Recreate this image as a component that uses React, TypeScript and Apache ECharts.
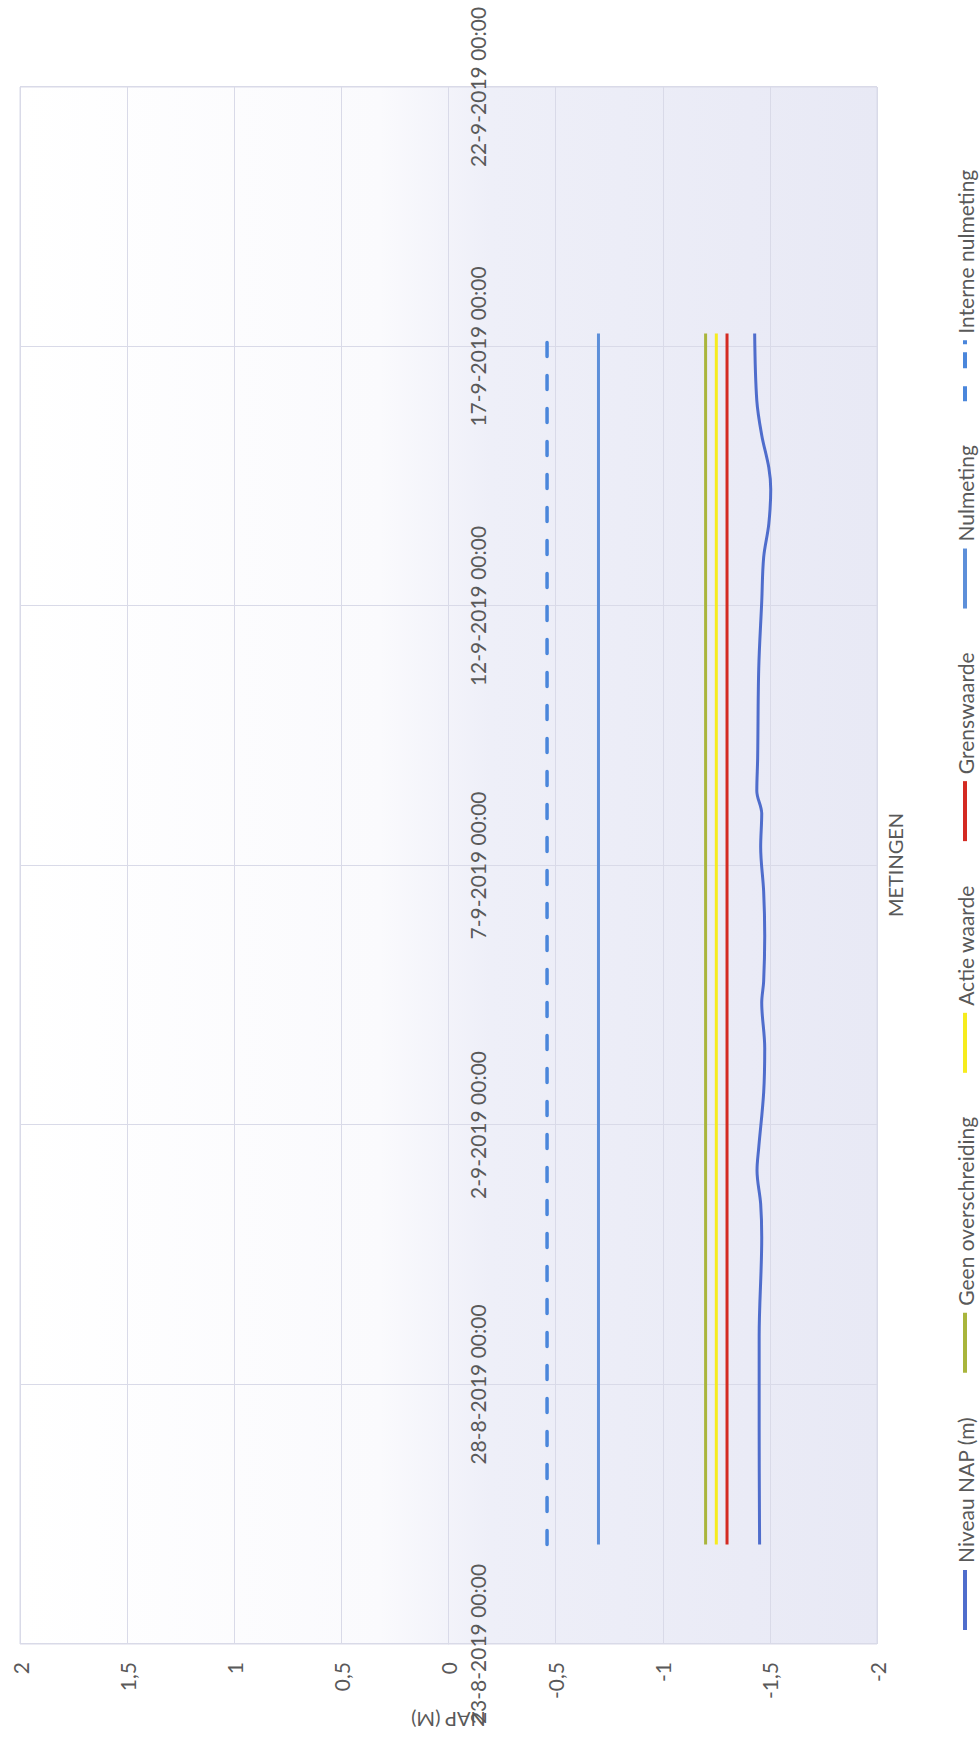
import React, { useEffect, useRef } from "react";
import * as echarts from "echarts";

// ---------- data ----------
const X_AXIS_START = "2019-08-23 00:00";
const X_AXIS_END = "2019-09-22 00:00";
const X_TICK_STEP_DAYS = 5;
const Y_MIN = -2;
const Y_MAX = 2;
const Y_STEP = 0.5;

const seriesNames = [
  "Niveau NAP (m)",
  "Geen overschreiding",
  "Actie waarde",
  "Grenswaarde",
  "Nulmeting",
  "Interne nulmeting",
];

const niveauDates = [
  "2019-08-24 22:00", "2019-08-27 04:00", "2019-08-28 22:00", "2019-08-30 20:00",
  "2019-08-31 11:30", "2019-09-01 03:00", "2019-09-01 13:30", "2019-09-02 15:00",
  "2019-09-03 11:30", "2019-09-04 08:30", "2019-09-04 18:30", "2019-09-05 15:30",
  "2019-09-06 12:00", "2019-09-07 08:30", "2019-09-08 00:00", "2019-09-08 10:30",
  "2019-09-09 02:00", "2019-09-10 19:00", "2019-09-12 02:00", "2019-09-12 22:30",
  "2019-09-13 14:00", "2019-09-14 06:00", "2019-09-14 16:00", "2019-09-15 07:00",
  "2019-09-15 23:00", "2019-09-17 06:00",
];
const niveauValues = [
  -1.452, -1.450, -1.450, -1.462,
  -1.457, -1.440, -1.448, -1.471,
  -1.476, -1.462, -1.471, -1.476,
  -1.471, -1.457, -1.462, -1.439,
  -1.443, -1.448, -1.462, -1.471,
  -1.495, -1.504, -1.495, -1.462,
  -1.439, -1.429,
];

const levelStart = "2019-08-24 22:00";
const levelEnd = "2019-09-17 06:00";
const geenOverschreiding = -1.2;
const actieWaarde = -1.25;
const grenswaarde = -1.3;
const nulmeting = -0.7;
const interneNulmeting = -0.46;

// ---------- helpers ----------
const DAY_MS = 86400000;
function toUTC(s: string) {
  const [d, t] = s.split(" ");
  const [Y, M, D] = d.split("-").map(Number);
  const [h, m] = (t || "00:00").split(":").map(Number);
  return Date.UTC(Y, M - 1, D, h, m);
}
const AXIS_T0 = toUTC(X_AXIS_START);
const dayOf = (s: string) => (toUTC(s) - AXIS_T0) / DAY_MS;
const pad = (n: number) => (n < 10 ? "0" + n : "" + n);
function fmtDate(v: number) {
  const dt = new Date(AXIS_T0 + Math.round(v * DAY_MS));
  return `${dt.getUTCDate()}-${dt.getUTCMonth() + 1}-${dt.getUTCFullYear()} ${pad(
    dt.getUTCHours()
  )}:${pad(dt.getUTCMinutes())}`;
}

const COLORS = ["#4f6dcc", "#a9b53c", "#f6ec1e", "#d42a22", "#5d8fd9", "#4a86db"];
const FONT = "Lato, 'Noto Sans', sans-serif";
const TEXT = "#595959";
const GRIDC = "#d9dae8";

const W = 1748;
const H = 979;
const GRID = { left: 104, right: 87, top: 20, bottom: 102 };

export default function App() {
  const ref = useRef<HTMLDivElement>(null);
  useEffect(() => {
    document.body.style.margin = "0";
    if (!ref.current) return;
    const chart = echarts.init(ref.current, undefined, { renderer: "svg" });

    const level = (v: number) => [
      [dayOf(levelStart), v],
      [dayOf(levelEnd), v],
    ];

    const solidIcon = "path://M0,0H60V4H0Z";
    const dashIcon = "path://M0,0H15V4H0Z M33,0H49V4H33Z M57,0H61V4H57Z";

    // x axis sits where the value axis crosses zero
    const plotH = H - GRID.top - GRID.bottom;
    const zeroOffset = -plotH * ((0 - Y_MIN) / (Y_MAX - Y_MIN));

    chart.setOption({
      animation: false,
      backgroundColor: "#ffffff",
      textStyle: { fontFamily: FONT },
      grid: {
        ...GRID,
        show: true,
        borderColor: GRIDC,
        borderWidth: 1,
        backgroundColor: new echarts.graphic.LinearGradient(0, 0, 0, 1, [
          { offset: 0, color: "#ffffff" },
          { offset: 0.42, color: "#fafafd" },
          { offset: 0.55, color: "#eeeff8" },
          { offset: 1, color: "#e8e9f5" },
        ]),
      },
      xAxis: {
        type: "value",
        position: "bottom",
        offset: zeroOffset,
        min: 0,
        max: dayOf(X_AXIS_END),
        interval: X_TICK_STEP_DAYS,
        axisLine: { show: true, onZero: false, lineStyle: { color: GRIDC, width: 1 } },
        axisTick: { show: false },
        axisLabel: {
          formatter: fmtDate,
          fontSize: 21,
          color: TEXT,
          fontFamily: FONT,
          margin: 18,
          showMinLabel: true,
          showMaxLabel: true,
        },
        splitLine: { show: true, lineStyle: { color: GRIDC, width: 1 } },
      },
      yAxis: {
        type: "value",
        min: Y_MIN,
        max: Y_MAX,
        interval: Y_STEP,
        name: "NAP (M)",
        nameLocation: "middle",
        nameRotate: 90,
        nameGap: 62,
        nameTextStyle: { fontSize: 20, color: TEXT, fontFamily: FONT },
        axisLine: { show: false },
        axisTick: { show: false },
        axisLabel: {
          formatter: (v: number) => String(v).replace(".", ","),
          fontSize: 21,
          color: TEXT,
          fontFamily: FONT,
          margin: 18,
        },
        splitLine: { show: true, lineStyle: { color: GRIDC, width: 1 } },
      },
      legend: {
        left: 113,
        top: 948,
        orient: "horizontal",
        itemWidth: 64,
        itemHeight: 4,
        itemGap: 44,
        textStyle: { fontSize: 21, color: TEXT, fontFamily: FONT, lineHeight: 24 },
        data: seriesNames.map((n, i) => ({ name: n, icon: i === 5 ? dashIcon : solidIcon })),
      },
      graphic: [
        {
          type: "text",
          x: 883,
          y: 895,
          style: {
            text: "METINGEN",
            fontSize: 20,
            fill: TEXT,
            fontFamily: FONT,
            align: "center",
            verticalAlign: "middle",
          },
        },
      ],
      series: [
        {
          name: seriesNames[0],
          type: "line",
          data: niveauDates.map((d, i) => [dayOf(d), niveauValues[i]]),
          smooth: 0.35,
          showSymbol: false,
          lineStyle: { color: COLORS[0], width: 3 },
          itemStyle: { color: COLORS[0] },
        },
        {
          name: seriesNames[1],
          type: "line",
          data: level(geenOverschreiding),
          showSymbol: false,
          lineStyle: { color: COLORS[1], width: 3 },
          itemStyle: { color: COLORS[1] },
        },
        {
          name: seriesNames[2],
          type: "line",
          data: level(actieWaarde),
          showSymbol: false,
          lineStyle: { color: COLORS[2], width: 3 },
          itemStyle: { color: COLORS[2] },
        },
        {
          name: seriesNames[3],
          type: "line",
          data: level(grenswaarde),
          showSymbol: false,
          lineStyle: { color: COLORS[3], width: 3 },
          itemStyle: { color: COLORS[3] },
        },
        {
          name: seriesNames[4],
          type: "line",
          data: level(nulmeting),
          showSymbol: false,
          lineStyle: { color: COLORS[4], width: 3 },
          itemStyle: { color: COLORS[4] },
        },
        {
          name: seriesNames[5],
          type: "line",
          data: level(interneNulmeting),
          showSymbol: false,
          lineStyle: { color: COLORS[5], width: 3.5, type: [14, 19], cap: "round" },
          itemStyle: { color: COLORS[5] },
        },
      ],
    });
    return () => chart.dispose();
  }, []);

  return (
    <div
      style={{
        position: "relative",
        width: H,
        height: W,
        overflow: "hidden",
        background: "#ffffff",
      }}
    >
      <div
        ref={ref}
        style={{
          position: "absolute",
          left: 0,
          top: 0,
          width: W,
          height: H,
          transformOrigin: "0 0",
          transform: `translateY(${W}px) rotate(-90deg)`,
        }}
      />
    </div>
  );
}
